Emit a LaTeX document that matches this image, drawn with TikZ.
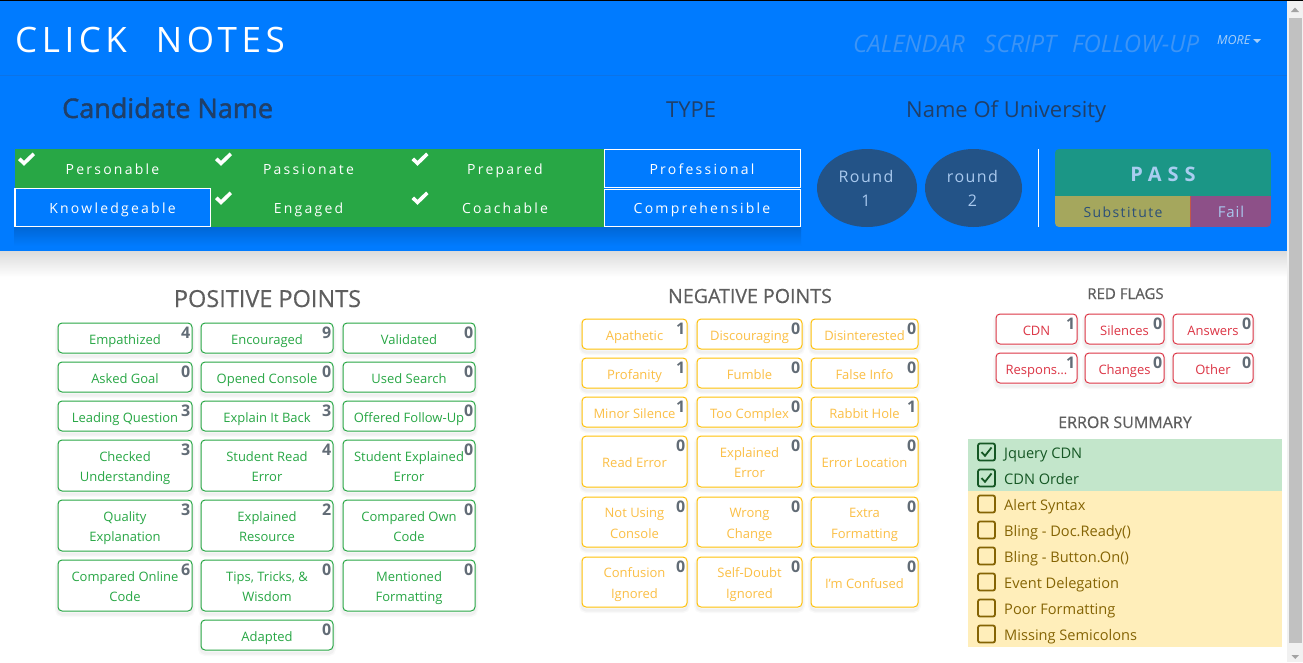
\documentclass[tikz,border=0pt]{standalone}
\usepackage{fontspec}
\setmainfont{Open Sans}
\usetikzlibrary{shapes.geometric,shadows}

\definecolor{bsblue}{HTML}{007BFF}
\definecolor{sepc}{HTML}{0C73E6}
\definecolor{navc}{HTML}{3D94F5}
\definecolor{morec}{HTML}{A8CFF7}
\definecolor{namec}{HTML}{203F68}
\definecolor{bsgreen}{HTML}{28A745}
\definecolor{roundc}{HTML}{235387}
\definecolor{roundt}{HTML}{A9C9EE}
\definecolor{passc}{HTML}{1B9686}
\definecolor{passt}{HTML}{A9CDF0}
\definecolor{subc}{HTML}{A5A75D}
\definecolor{subt}{HTML}{2B4F78}
\definecolor{failc}{HTML}{8D5088}
\definecolor{failt}{HTML}{A9C8EE}
\definecolor{faill}{HTML}{C4564A}
\definecolor{titlec}{HTML}{5E5E5E}
\definecolor{numc}{HTML}{626C76}
\definecolor{bsyellow}{HTML}{FFC107}
\definecolor{yelt}{HTML}{FBBF45}
\definecolor{bsred}{HTML}{DC3545}
\definecolor{okbg}{HTML}{C3E6CB}
\definecolor{okt}{HTML}{155724}
\definecolor{warnbg}{HTML}{FFEEBA}
\definecolor{warnt}{HTML}{856404}
\definecolor{sbtrack}{HTML}{F1F1F1}
\definecolor{sbthumb}{HTML}{C1C1C1}
\definecolor{sbarrow}{HTML}{A3A3A3}
\definecolor{stripshade}{HTML}{0067D6}

\newcommand\fs[1]{\fontsize{#1}{#1}\selectfont}

\tikzset{
  btnbox/.style={rectangle, rounded corners=4pt, fill=white, line width=1pt, inner sep=0pt,
    general shadow={draw=black, line width=6pt, opacity=0.025, shadow yshift=-3pt},
    general shadow={draw=black, line width=3pt, opacity=0.035, shadow yshift=-3pt}},
  pos box/.style={draw=bsgreen}, pos text/.style={text=bsgreen},
  neg box/.style={draw=bsyellow}, neg text/.style={text=yelt},
  red box/.style={draw=bsred}, red text/.style={text=bsred},
  btntext/.style={inner sep=0pt, font=\fs{13}},
  numtext/.style={inner sep=0pt, font={\bfseries\fs{16}}, text=numc},
  crit/.style={inner sep=0pt, text=white, font={\fs{14}\addfontfeature{LetterSpace=16}}},
  critbox/.style={rectangle, draw=white, line width=1.2pt, fill=bsblue, inner sep=0pt},
  chkline/.style={white, line width=3.6pt, line join=miter},
  nav/.style={inner sep=0pt, text=navc, font={\itshape\fs{24}}},
  hname/.style={inner sep=0pt, text=namec, font=\fs{22}},
  roundbox/.style={ellipse, fill=roundc, minimum height=78pt, inner sep=0pt},
  roundtxt/.style={inner sep=0pt, text=roundt, font={\fs{16}\addfontfeature{LetterSpace=9}}},
  sectitle/.style={inner sep=0pt, text=titlec},
  cbox/.style={rectangle, rounded corners=2pt, line width=1.8pt, minimum size=17pt, inner sep=0pt},
  estxt/.style={inner sep=0pt, font=\fs{14.6}},
}

% name, x1, y1, x2, y2, kind, number, line1, line2
\newcommand\mkbtn[9]{%
  \node[btnbox, #6 box, minimum width={(#4-#2)*1pt}, minimum height={(#5-#3)*1pt}] (#1) at ({(#2+#4)/2},{(#3+#5)/2}) {};
  \if\relax\detokenize{#9}\relax
    \node[btntext, #6 text, anchor=base] (#1t) at ([yshift=-6pt]#1.center) {#8};
  \else
    \node[btntext, #6 text, anchor=base] (#1t) at ([yshift=4.2pt]#1.center) {#8};
    \node[btntext, #6 text, anchor=base] (#1u) at ([yshift=-16.4pt]#1.center) {#9};
  \fi
  \node[numtext, anchor=north east] (#1n) at ([xshift=-2pt,yshift=-4.5pt]#1.north east) {#7};
}
% check mark centred on a named coordinate
\newcommand\mkcheck[3]{%
  \coordinate (#1) at (#2,#3);
  \draw[chkline] ([shift={(-7.2,-0.7)}]#1) -- ([shift={(-2.5,3.9)}]#1) -- ([shift={(7.3,-5.7)}]#1);
}

\begin{document}
\begin{tikzpicture}[x=1pt,y=-1pt]
\useasboundingbox (0,0) rectangle (1303,662);
\fill[white] (0,0) rectangle (1303,662);

% ---------- header ----------
\fill[bsblue] (0,0) rectangle (1287,251);
\shade[top color=black!14, bottom color=white] (0,251) rectangle (1287,277);
\draw[sepc, line width=1pt] (0,75) -- (1287,75);
\fill[black] (0,0) rectangle (1303,1.2);

\node[anchor=base west, inner sep=0pt, text=white, font={\fs{35}\addfontfeature{LetterSpace=13}}] (title) at (15,52) {CLICK\hspace{29pt}NOTES};
\node[nav, anchor=base west] (cal) at (853,52) {CALENDAR};
\node[nav, anchor=base west] (scr) at (984,52) {SCRIPT};
\node[nav, anchor=base west] (fol) at (1072,52) {FOLLOW-UP};
\node[anchor=base west, inner sep=0pt, text=morec, font={\itshape\fs{12.5}}] (more) at (1217,44) {MORE};
\fill[morec] (1253,39) -- (1261,39) -- (1257,43) -- cycle;

\node[anchor=base west, inner sep=0pt, text=namec, font={\fs{27}\addfontfeature{FakeBold=1.6}}] (cand) at (62,118) {Candidate Name};
\node[hname, anchor=base west] (type) at (666,117) {TYPE};
\node[hname, anchor=base west] (univ) at (906,117) {Name Of University};

% criteria strip
\shade[top color=stripshade, bottom color=bsblue] (14,227) rectangle (801,246);
\fill[bsgreen] (14.5,149) rectangle (604,227);
\node[critbox, minimum width=195.5pt, minimum height=38pt] (kn) at (112.75,207.5) {};
\node[critbox, minimum width=196pt, minimum height=38pt] (pr) at (702.5,168.5) {};
\node[critbox, minimum width=196pt, minimum height=37.3pt] (co) at (702.5,207.85) {};

\node[crit, anchor=base] (t1) at (112.5,174) {Personable};
\node[crit, anchor=base] (t2) at (308.5,174) {Passionate};
\node[crit, anchor=base] (t3) at (505,174) {Prepared};
\node[crit, anchor=base] (t4) at (702,174) {Professional};
\node[crit, anchor=base] (t5) at (112.5,213) {Knowledgeable};
\node[crit, anchor=base] (t6) at (308.5,213) {Engaged};
\node[crit, anchor=base] (t7) at (505,213) {Coachable};
\node[crit, anchor=base] (t8) at (702,213) {Comprehensible};

\mkcheck{c1}{26.5}{159.5}
\mkcheck{c2}{223.5}{159.5}
\mkcheck{c3}{420}{159.5}
\mkcheck{c4}{223.5}{198.5}
\mkcheck{c5}{420}{198.5}

% rounds
\node[roundbox, minimum width=100pt] (r1) at (867,188) {};
\node[roundbox, minimum width=97pt] (r2) at (973.5,188) {};
\node[roundtxt, anchor=base] (r1a) at (866,182) {Round};
\node[roundtxt, anchor=base] (r1b) at (866,206) {1};
\node[roundtxt, anchor=base] (r2a) at (972.5,182) {round};
\node[roundtxt, anchor=base] (r2b) at (972.5,206) {2};

\draw[white, line width=1.2pt] (1038.5,149) -- (1038.5,227);

% pass box
\begin{scope}
  \clip[rounded corners=4pt] (1055,149) rectangle (1271,227);
  \fill[passc] (1055,149) rectangle (1271,196);
  \fill[subc] (1055,196) rectangle (1190,227);
  \fill[failc] (1190,196) rectangle (1271,227);
\end{scope}
\draw[faill, line width=0.8pt] (1190,196) -- (1190,227);
\node[anchor=base, inner sep=0pt, text=passt, font={\bfseries\fs{20}\addfontfeature{LetterSpace=30}}] (pass) at (1163,181) {PASS};
\node[anchor=base, inner sep=0pt, text=subt, font={\fs{14}\addfontfeature{LetterSpace=10}}] (sub) at (1123,217) {Substitute};
\node[anchor=base, inner sep=0pt, text=failt, font={\fs{15}\addfontfeature{LetterSpace=6}}] (fail) at (1231,217) {Fail};

% ---------- section titles ----------
\node[sectitle, anchor=base, font={\fs{23.5}\addfontfeature{FakeBold=0.4}}] (ptitle) at (267.5,307) {POSITIVE POINTS};
\node[sectitle, anchor=base, font={\fs{19.6}\addfontfeature{FakeBold=0.4}}] (ntitle) at (750,303) {NEGATIVE POINTS};
\node[sectitle, anchor=base, font={\fs{15}\addfontfeature{FakeBold=0.4}}] (rtitle) at (1125.5,299) {RED FLAGS};
\node[sectitle, anchor=base, font={\fs{16}\addfontfeature{FakeBold=0.4}}] (etitle) at (1125,428) {ERROR SUMMARY};

% ---------- positive points ----------
\mkbtn{pa1}{58}{323}{192}{353}{pos}{4}{Empathized}{}
\mkbtn{pb1}{201}{323}{333}{353}{pos}{9}{Encouraged}{}
\mkbtn{pc1}{343}{323}{475}{353}{pos}{0}{Validated}{}
\mkbtn{pa2}{58}{362}{192}{392}{pos}{0}{Asked Goal}{}
\mkbtn{pb2}{201}{362}{333}{392}{pos}{0}{Opened Console}{}
\mkbtn{pc2}{343}{362}{475}{392}{pos}{0}{Used Search}{}
\mkbtn{pa3}{58}{401}{192}{431}{pos}{3}{Leading Question}{}
\mkbtn{pb3}{201}{401}{333}{431}{pos}{3}{Explain It Back}{}
\mkbtn{pc3}{343}{401}{475}{431}{pos}{0}{Offered Follow-Up}{}
\mkbtn{pa4}{58}{440}{192}{491}{pos}{3}{Checked}{Understanding}
\mkbtn{pb4}{201}{440}{333}{491}{pos}{4}{Student Read}{Error}
\mkbtn{pc4}{343}{440}{475}{491}{pos}{0}{Student Explained}{Error}
\mkbtn{pa5}{58}{500}{192}{551}{pos}{3}{Quality}{Explanation}
\mkbtn{pb5}{201}{500}{333}{551}{pos}{2}{Explained}{Resource}
\mkbtn{pc5}{343}{500}{475}{551}{pos}{0}{Compared Own}{Code}
\mkbtn{pa6}{58}{560}{192}{611}{pos}{6}{Compared Online}{Code}
\mkbtn{pb6}{201}{560}{333}{611}{pos}{0}{Tips, Tricks, \&}{Wisdom}
\mkbtn{pc6}{343}{560}{475}{611}{pos}{0}{Mentioned}{Formatting}
\mkbtn{pb7}{201}{620}{333}{650}{pos}{0}{Adapted}{}

% ---------- negative points ----------
\mkbtn{na1}{582}{319}{687}{349}{neg}{1}{Apathetic}{}
\mkbtn{nb1}{697}{319}{802}{349}{neg}{0}{Discouraging}{}
\mkbtn{nc1}{811}{319}{918}{349}{neg}{0}{Disinterested}{}
\mkbtn{na2}{582}{358}{687}{388}{neg}{1}{Profanity}{}
\mkbtn{nb2}{697}{358}{802}{388}{neg}{0}{Fumble}{}
\mkbtn{nc2}{811}{358}{918}{388}{neg}{0}{False Info}{}
\mkbtn{na3}{582}{397}{687}{427}{neg}{1}{Minor Silence}{}
\mkbtn{nb3}{697}{397}{802}{427}{neg}{0}{Too Complex}{}
\mkbtn{nc3}{811}{397}{918}{427}{neg}{1}{Rabbit Hole}{}
\mkbtn{na4}{582}{436}{687}{487}{neg}{0}{Read Error}{}
\mkbtn{nb4}{697}{436}{802}{487}{neg}{0}{Explained}{Error}
\mkbtn{nc4}{811}{436}{918}{487}{neg}{0}{Error Location}{}
\mkbtn{na5}{582}{497}{687}{547}{neg}{0}{Not Using}{Console}
\mkbtn{nb5}{697}{497}{802}{547}{neg}{0}{Wrong}{Change}
\mkbtn{nc5}{811}{497}{918}{547}{neg}{0}{Extra}{Formatting}
\mkbtn{na6}{582}{557}{687}{607}{neg}{0}{Confusion}{Ignored}
\mkbtn{nb6}{697}{557}{802}{607}{neg}{0}{Self-Doubt}{Ignored}
\mkbtn{nc6}{811}{557}{918}{607}{neg}{0}{I'm Confused}{}

% ---------- red flags ----------
\mkbtn{ra1}{996}{314}{1077}{344}{red}{1}{CDN}{}
\mkbtn{rb1}{1085}{314}{1164}{344}{red}{0}{Silences}{}
\mkbtn{rc1}{1173}{314}{1253}{344}{red}{0}{Answers}{}
\mkbtn{ra2}{996}{353}{1077}{383}{red}{1}{Respons…}{}
\mkbtn{rb2}{1085}{353}{1164}{383}{red}{0}{Changes}{}
\mkbtn{rc2}{1173}{353}{1253}{383}{red}{0}{Other}{}

% ---------- error summary ----------
\fill[okbg] (968,439) rectangle (1282,491);
\fill[warnbg] (968,491) rectangle (1282,647);
\foreach \t [count=\i] in {Jquery CDN, CDN Order}{
  \node[cbox, draw=okt] (ok\i) at (986.5,{452+26*(\i-1)}) {};
  \draw[okt, line width=1.8pt] ([shift={(-5,0)}]ok\i.center) -- ([shift={(-1.5,3.8)}]ok\i.center) -- ([shift={(5,-4.5)}]ok\i.center);
  \node[estxt, text=okt, anchor=base west] (okt\i) at (1004,{458.3+26*(\i-1)}) {\t};
}
\foreach \t [count=\i] in {Alert Syntax, Bling - Doc.Ready(), Bling - Button.On(), Event Delegation, Poor Formatting, Missing Semicolons}{
  \node[cbox, draw=warnt] (wb\i) at (986.5,{504+26*(\i-1)}) {};
  \node[estxt, text=warnt, anchor=base west] (wt\i) at (1004,{510.3+26*(\i-1)}) {\t};
}

% ---------- scrollbar ----------
\fill[sbtrack] (1287,1.2) rectangle (1303,662);
\fill[sbthumb] (1288.5,18) rectangle (1301.5,643);
\fill[sbarrow] (1291,12) -- (1299,12) -- (1295,7.5) -- cycle;
\fill[sbarrow] (1291.5,655) -- (1299,655) -- (1295.25,659) -- cycle;
\end{tikzpicture}
\end{document}
